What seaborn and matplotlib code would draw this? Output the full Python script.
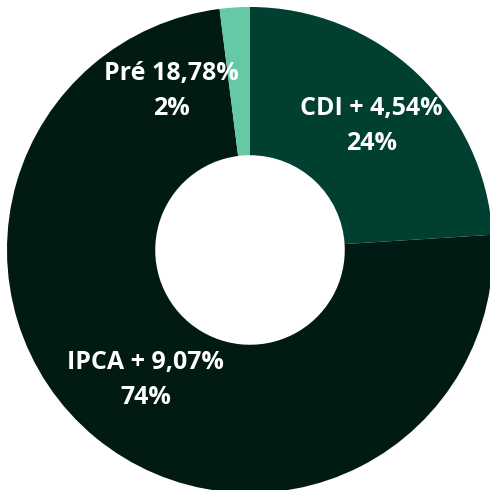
import matplotlib
matplotlib.use("Agg")
import matplotlib.pyplot as plt
import seaborn as sns

# ---------- data ----------
categories = ["CDI + 4,54%", "IPCA + 9,07%", "Pré 18,78%"]
shares = [24, 74, 2]
share_labels = ["24%", "74%", "2%"]
colors = ["#013f31", "#011a14", "#66c9a5"]

sns.set_theme(style="white")
plt.rcParams["font.family"] = ["Open Sans", "DejaVu Sans"]

fig = plt.figure(figsize=(4.9, 4.9), dpi=100)
ax = fig.add_axes([0, 0, 1, 1])

ax.pie(shares, colors=colors, startangle=90, counterclock=False,
       radius=1.0, wedgeprops=dict(width=0.61, linewidth=0))

# label anchor points (slice-wise, as placed in the source chart)
label_pos = [(0.50, 0.51), (-0.43, -0.535), (-0.325, 0.655)]
for cat, lab, (x, y) in zip(categories, share_labels, label_pos):
    ax.text(x, y, f"{cat}\n{lab}", ha="center", va="center", color="white",
            fontsize=18, fontweight="bold", linespacing=1.55)

ax.set_xlim(-250 / 243, 240 / 243)
ax.set_ylim(-240 / 243, 250 / 243)
ax.set_aspect("equal")
ax.axis("off")

fig.savefig("out.png", dpi=100, facecolor="white")
